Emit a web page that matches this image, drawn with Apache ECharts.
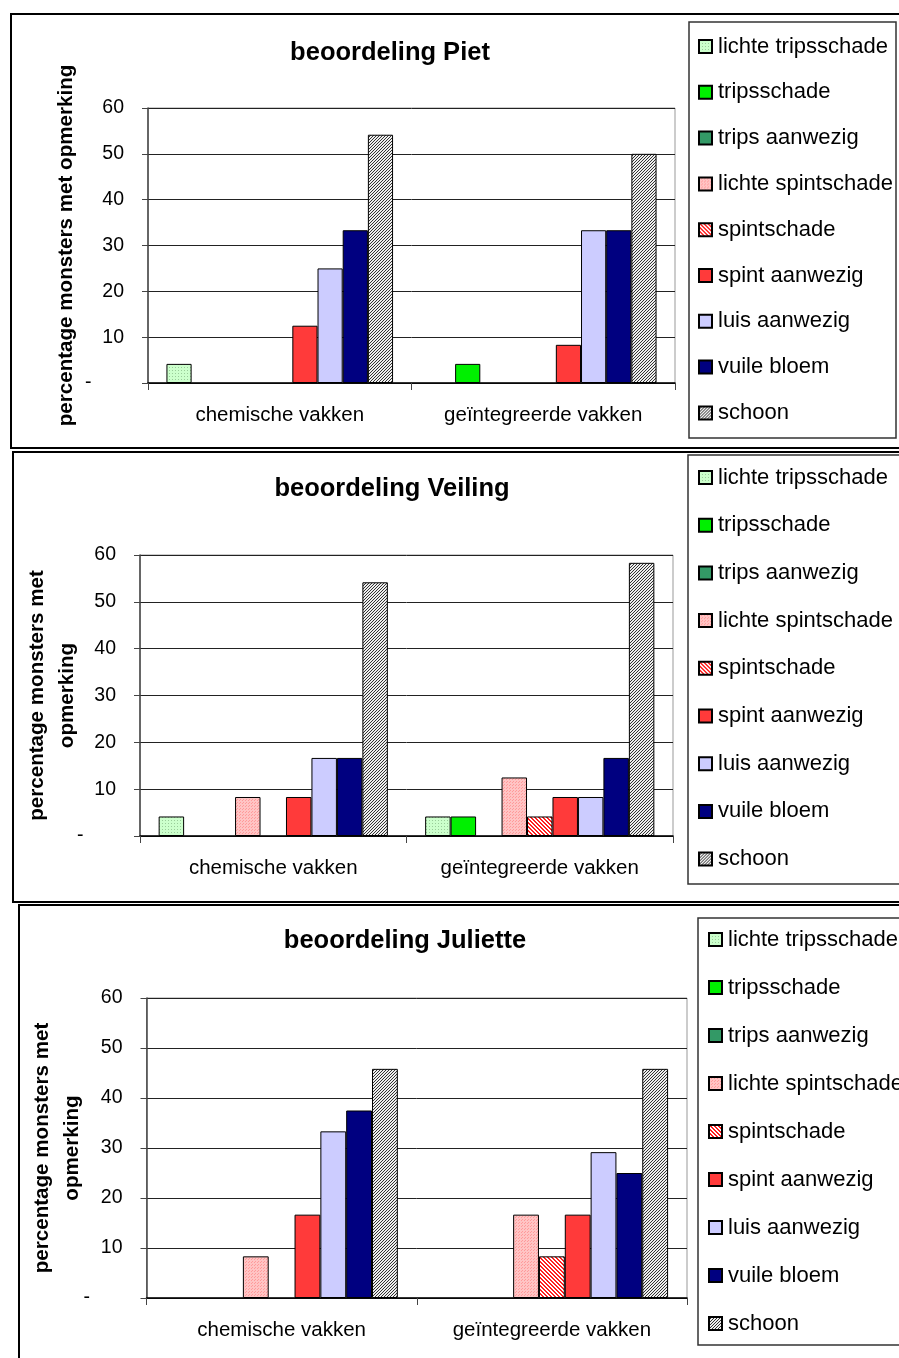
<!DOCTYPE html>
<html>
<head>
<meta charset="utf-8">
<script src="https://cdn.jsdelivr.net/npm/echarts@6/dist/echarts.min.js"></script>
<style>
body { margin: 0; background: #fff; overflow: hidden; width: 899px; height: 1358px; position: relative; }
.panel { position: absolute; }
</style>
</head>
<body>
<div id="piet" class="panel" style="left:10px;top:13px;width:900px;height:436px"></div>
<div id="veiling" class="panel" style="left:12px;top:451px;width:900px;height:452px"></div>
<div id="juliette" class="panel" style="left:18px;top:904px;width:900px;height:456px"></div>
<script>
// data
var categories = ['chemische vakken', 'geïntegreerde vakken'];
var seriesNames = ['lichte tripsschade', 'tripsschade', 'trips aanwezig', 'lichte spintschade',
    'spintschade', 'spint aanwezig', 'luis aanwezig', 'vuile bloem', 'schoon'];
var yTicks = [0, 10, 20, 30, 40, 50, 60];

var pietChemisch = [4.17, 0, 0, 0, 0, 12.5, 25, 33.33, 54.17];
var pietGeintegreerd = [0, 4.17, 0, 0, 0, 8.33, 33.33, 33.33, 50];
var veilingChemisch = [4.17, 0, 0, 8.33, 0, 8.33, 16.67, 16.67, 54.17];
var veilingGeintegreerd = [4.17, 4.17, 0, 12.5, 4.17, 8.33, 8.33, 16.67, 58.33];
var julietteChemisch = [0, 0, 0, 8.33, 0, 16.67, 33.33, 37.5, 45.83];
var julietteGeintegreerd = [0, 0, 0, 16.67, 8.33, 16.67, 29.17, 25, 45.83];

var FONT = '"Liberation Sans", Arial, sans-serif';

// small canvas fills to mimic the excel patterns
function pattern(size, bg, fg, pixels) {
    var c = document.createElement('canvas');
    c.width = size; c.height = size;
    var g = c.getContext('2d');
    g.fillStyle = bg;
    g.fillRect(0, 0, size, size);
    g.fillStyle = fg;
    pixels.forEach(function (p) { g.fillRect(p[0], p[1], 1, 1); });
    return { image: c, repeat: 'repeat' };
}

var fills = [
    pattern(3, '#ccffcc', '#99cc99', [[0, 0]]),
    '#00f000',
    '#339966',
    pattern(3, '#ffc4c4', '#ff9a9a', [[0, 0], [2, 1]]),
    pattern(4, '#ffffff', '#ff2020', [[0, 0], [1, 0], [1, 1], [2, 1], [2, 2], [3, 2], [3, 3], [0, 3]]),
    '#ff3a3a',
    '#ccccff',
    '#000080',
    pattern(3, '#eeeeee', '#333333', [[2, 0], [1, 1], [0, 2]])
];

function makePanel(id, cfg) {
    var chart = echarts.init(document.getElementById(id));
    var series = seriesNames.map(function (name, i) {
        return {
            name: name,
            type: 'bar',
            barGap: '0%',
            barCategoryGap: '14%',
            data: [cfg.chem[i], cfg.integ[i]].map(function (v) { return v === 0 ? '-' : v; }),
            itemStyle: { color: fills[i], borderColor: '#000', borderWidth: 1 },
            emphasis: { disabled: true }
        };
    });
    chart.setOption({
        animation: false,
        title: {
            text: cfg.title,
            left: cfg.titleX,
            top: cfg.titleY,
            textAlign: 'center',
            textStyle: { fontFamily: FONT, fontWeight: 'bold', fontSize: 25.5, color: '#000' }
        },
        legend: {
            orient: 'vertical',
            left: cfg.legendX,
            top: cfg.legendY,
            padding: 0,
            itemGap: cfg.legendGap,
            itemWidth: 13,
            itemHeight: 13,
            icon: 'rect',
            selectedMode: false,
            textStyle: { fontFamily: FONT, fontSize: 22, color: '#000', lineHeight: 22, padding: [0, 0, 0, 1] },
            data: seriesNames
        },
        grid: {
            left: cfg.grid[0], top: cfg.grid[1], width: cfg.grid[2], height: cfg.grid[3],
            containLabel: false, outerBoundsMode: 'none',
            show: true, borderColor: '#999', borderWidth: 1
        },
        xAxis: {
            type: 'category',
            data: categories,
            axisLine: { lineStyle: { color: '#000', width: 1.5 } },
            axisTick: { show: true, length: 7, lineStyle: { color: '#444' } },
            axisLabel: { margin: 22, fontFamily: FONT, fontSize: 20.5, color: '#000' }
        },
        yAxis: {
            type: 'value',
            min: yTicks[0],
            max: yTicks[yTicks.length - 1],
            interval: 10,
            name: cfg.yName,
            nameLocation: 'middle',
            nameRotate: 90,
            nameGap: cfg.nameGap,
            nameMoveOverlap: false,
            nameTextStyle: { fontFamily: FONT, fontWeight: 'bold', fontSize: 20.6, color: '#000', lineHeight: 30 },
            axisLine: { show: true, lineStyle: { color: '#444', width: 1.5 } },
            axisTick: { show: true, length: 6, lineStyle: { color: '#444' } },
            splitLine: { lineStyle: { color: '#222', width: 1 } },
            axisLabel: {
                margin: 24, fontFamily: FONT, fontSize: 19.5, color: '#000',
                formatter: function (v) { return v === 0 ? '-      ' : v; }
            }
        },
        graphic: [
            { type: 'rect', silent: true, shape: { x: 1, y: 1, width: 960, height: cfg.height - 2 },
              style: { fill: null, stroke: '#000', lineWidth: 2 } },
            { type: 'rect', silent: true, shape: cfg.legendBox,
              style: { fill: null, stroke: '#333', lineWidth: 1.5 } }
        ],
        series: series
    });
    return chart;
}

makePanel('piet', {
    title: 'beoordeling Piet', titleX: 375, titleY: 22,
    yName: 'percentage monsters met opmerking', nameGap: 67,
    chem: pietChemisch, integ: pietGeintegreerd,
    grid: [138, 95, 527, 275], height: 436,
    legendX: 688, legendY: 22.5, legendGap: 23.8,
    legendBox: { x: 679, y: 9, width: 207, height: 416 }
});

makePanel('veiling', {
    title: 'beoordeling Veiling', titleX: 375, titleY: 20,
    yName: 'percentage monsters met\nopmerking', nameGap: 58,
    chem: veilingChemisch, integ: veilingGeintegreerd,
    grid: [128, 104, 533, 281], height: 452,
    legendX: 686, legendY: 15.5, legendGap: 25.7,
    legendBox: { x: 676, y: 4, width: 240, height: 429 }
});

makePanel('juliette', {
    title: 'beoordeling Juliette', titleX: 382, titleY: 19,
    yName: 'percentage monsters met\nopmerking', nameGap: 59.5,
    chem: julietteChemisch, integ: julietteGeintegreerd,
    grid: [128.5, 94, 540.5, 300], height: 456,
    legendX: 690, legendY: 24.5, legendGap: 26,
    legendBox: { x: 680, y: 14, width: 240, height: 427 }
});
</script>
</body>
</html>
